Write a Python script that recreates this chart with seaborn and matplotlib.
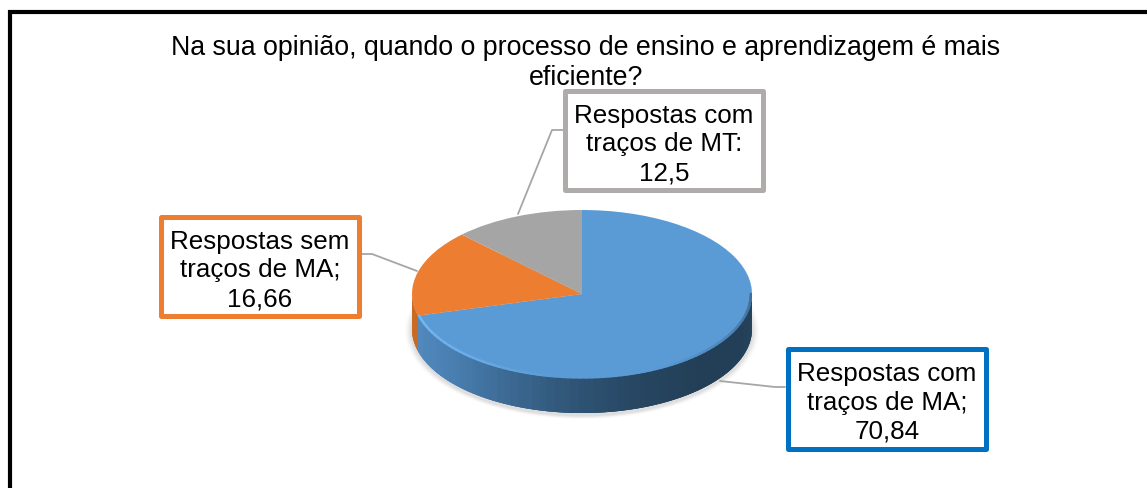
import numpy as np
import matplotlib
matplotlib.use("Agg")
import matplotlib.pyplot as plt
from matplotlib.patches import Ellipse, FancyBboxPatch
import seaborn as sns

# data
categories = ["Respostas com\ntraços de MA;", "Respostas sem\ntraços de MA;", "Respostas com\ntraços de MT:"]
values = [70.84, 16.66, 12.5]
value_labels = ["70,84", "16,66", "12,5"]
colors = ["#5B9BD5", "#ED7D31", "#A5A5A5"]
box_colors = ["#0070C0", "#ED7D31", "#AFABAB"]
title = "Na sua opinião, quando o processo de ensino e aprendizagem é mais\neficiente?"

W, H = 1147, 488
CX, CY, RX, RY, DEPTH = 582, 294, 170, 84, 35

sns.set_theme(style="white")
plt.rcParams["font.family"] = ["Liberation Sans", "DejaVu Sans"]

fig = plt.figure(figsize=(W / 100, H / 100), dpi=100, facecolor="white")

# whole figure in pixel coords for frame, labels and leader lines
ax = fig.add_axes([0, 0, 1, 1], zorder=3)
ax.set_xlim(0, W)
ax.set_ylim(H, 0)
ax.axis("off")
ax.patch.set_alpha(0)

# pie axes: one data unit is RX wide and RY high
pie_ax = fig.add_axes([0, 0, 1, 1], zorder=2)
pie_ax.pie(values, colors=colors, startangle=90, counterclock=False, radius=1,
           wedgeprops={"linewidth": 0})
pie_ax.set_aspect("auto")
pie_ax.set_xlim(-CX / RX, (W - CX) / RX)
pie_ax.set_ylim((CY - H) / RY, CY / RY)
depth = DEPTH / RY

# soft shadow under the disc
for grow, alpha in [(1.04, 0.04), (1.03, 0.06), (1.02, 0.08), (1.01, 0.1)]:
    pie_ax.add_patch(Ellipse((0, -depth - 0.02), 2 * grow, 2 * grow * 1.01, fc="#808080",
                             ec="none", alpha=alpha, zorder=0))

# side wall of the disc, strip by strip along the lower half
blue_end = 90 - 360 * values[0] / sum(values)  # clockwise from the top
wall = sns.blend_palette(["#5289BE", "#4A7FB2", "#3C6A94", "#2F5475", "#264560", "#233F57", "#233F57", "#284660"], 64)
angles = np.linspace(180, 360, 181)
for a0, a1 in zip(angles[:-1], angles[1:]):
    t = np.radians(np.linspace(a0, min(a1 + 2, 360), 5))
    x = np.cos(t)
    y = np.sin(t)
    if a0 < blue_end + 360:
        c = "#C96A24"
    else:
        c = wall[int((a0 - 195) / 165 * 63)]
    pie_ax.fill(np.r_[x, x[::-1]], np.r_[y, y[::-1] - depth], color=c, lw=0, zorder=0.5)

# bevel on the top rim, bright on the left and fading out to the right
rim_colors = sns.blend_palette(["#74B6F0", "#6AACE8", "#5B9BD5", "#5B9BD5", "#4F88BC", "#3F6E99"], 80)
rim = np.radians(np.linspace(blue_end + 360, 360, 81))
for i, c in enumerate(rim_colors):
    t = rim[i:i + 2]
    pie_ax.plot(np.cos(t) * 0.993, np.sin(t) * 0.993, color=c, lw=1.8, zorder=3, solid_capstyle="round")

pie_ax.axis("off")

# outer frame, runs off the right and bottom edges
ax.plot([10, 10, W + 5], [H + 5, 11.5, 11.5], color="black", lw=3, solid_joinstyle="miter", clip_on=False)

ax.text(586, 63, title, ha="center", va="center", fontsize=19.25, color="black", linespacing=1.2)

# leader lines
ax.plot([720, 775, 785], [381, 387, 387], color="#A6A6A6", lw=1.3)
ax.plot([361, 372, 417], [254, 254, 271], color="#A6A6A6", lw=1.3)
ax.plot([563, 552, 518], [130, 130, 214], color="#A6A6A6", lw=1.3)

# data label boxes
boxes = [(788, 349, 198, 100), (161, 217, 198, 99), (565, 91, 198, 99)]
for (x, y, w, h), name, val, bc in zip(boxes, categories, value_labels, box_colors):
    ax.add_patch(FancyBboxPatch((x, y), w, h, boxstyle="square,pad=0", fc="white", ec=bc, lw=3.6,
                                joinstyle="round", zorder=4))
    ax.text(x + w / 2, y + h / 2 + 4, name + "\n" + val, ha="center", va="center", fontsize=18.7,
            color="black", linespacing=1.26, zorder=5)

fig.savefig("out.png", dpi=100, facecolor="white")
